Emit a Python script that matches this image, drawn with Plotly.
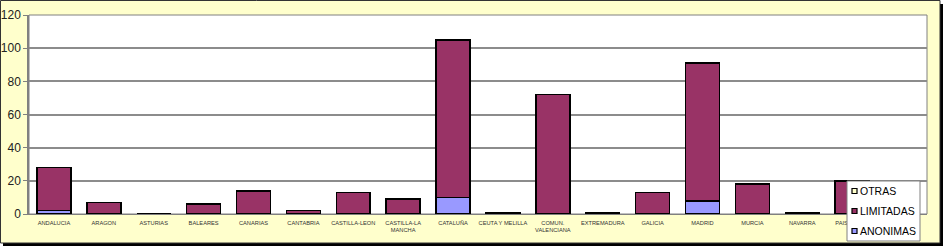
import plotly.graph_objects as go

categories = ["ANDALUCIA", "ARAGON", "ASTURIAS", "BALEARES", "CANARIAS", "CANTABRIA",
              "CASTILLA-LEON", "CASTILLA-LA<br>MANCHA", "CATALUÑA", "CEUTA Y MELILLA",
              "COMUN.<br>VALENCIANA", "EXTREMADURA", "GALICIA", "MADRID", "MURCIA",
              "NAVARRA", "PAIS VASCO", "LA RIOJA"]
anonimas = [2, 0, 0, 0, 0, 0, 0, 0, 10, 0, 0, 0, 0, 8, 0, 0, 0, 0]
limitadas = [26, 7, 0, 6, 14, 2, 13, 9, 95, 1, 72, 1, 13, 83, 18, 1, 20, 4]
otras = [0] * 18

series_names = ["OTRAS", "LIMITADAS", "ANONIMAS"]
series_colors = {"OTRAS": "#FFFFCC", "LIMITADAS": "#993366", "ANONIMAS": "#9999FF"}

y_ticks = [0, 20, 40, 60, 80, 100, 120]

line = dict(color="#000000", width=1.6)
fig = go.Figure()
fig.add_trace(go.Bar(x=categories, y=anonimas, name="ANONIMAS",
                     marker=dict(color=series_colors["ANONIMAS"], line=line)))
fig.add_trace(go.Bar(x=categories, y=limitadas, name="LIMITADAS",
                     marker=dict(color=series_colors["LIMITADAS"], line=line)))
fig.add_trace(go.Bar(x=categories, y=otras, name="OTRAS",
                     marker=dict(color=series_colors["OTRAS"], line=line)))

W, H = 944, 248
L, R, T, B = 29, 17, 15, 34
pw, ph = W - L - R, H - T - B


def px_x(v):
    return (v - L) / pw


def px_y(v):
    return (H - B - v) / ph


shapes = [
    # shadow
    dict(type="rect", xref="paper", yref="paper", layer="below",
         x0=px_x(3), x1=px_x(943), y0=px_y(246), y1=px_y(4),
         fillcolor="#000000", line=dict(width=0)),
    # frame
    dict(type="rect", xref="paper", yref="paper", layer="below",
         x0=px_x(0.5), x1=px_x(940), y0=px_y(243), y1=px_y(0.5),
         fillcolor="#FFFFCC", line=dict(color="#333333", width=1)),
    # plot area
    dict(type="rect", xref="paper", yref="paper", layer="below",
         x0=0, x1=1, y0=0, y1=1,
         fillcolor="#FFFFFF", line=dict(color="#808080", width=1)),
    # legend box (above)
    dict(type="rect", xref="paper", yref="paper", layer="above",
         x0=px_x(847), x1=px_x(920), y0=px_y(241), y1=px_y(181),
         fillcolor="#FFFFFF", line=dict(color="#808080", width=1)),
]

annotations = []
for i, name in enumerate(series_names):
    cy = 191 + 20 * i
    shapes.append(dict(type="rect", xref="paper", yref="paper", layer="above",
                       x0=px_x(852), x1=px_x(857), y0=px_y(cy + 2.5), y1=px_y(cy - 2.5),
                       fillcolor=series_colors[name], line=dict(color="#000000", width=1.2)))
    annotations.append(dict(xref="paper", yref="paper", x=px_x(857.5), y=px_y(cy),
                            xanchor="left", yanchor="middle", text=name, showarrow=False,
                            font=dict(size=10.5, color="#000000"), xshift=0))

fig.update_layout(
    width=W, height=H,
    margin=dict(l=L, r=R, t=T, b=B),
    barmode="stack",
    bargap=0.32,
    paper_bgcolor="#FFFFFF",
    plot_bgcolor="rgba(0,0,0,0)",
    font=dict(family="Liberation Sans, Arial, sans-serif", color="#222222"),
    shapes=shapes,
    annotations=annotations,
    showlegend=False,
    xaxis=dict(
        tickfont=dict(size=5.7, color="#333333"),
        showline=True, linecolor="#808080", linewidth=1,
        ticks="", tickangle=0, automargin=False, ticklabelstandoff=3,
    ),
    yaxis=dict(
        range=[0, 120], tickvals=y_ticks,
        tickfont=dict(size=12, color="#222222"),
        showgrid=True, gridcolor="#8C8C8C", gridwidth=1.5,
        showline=True, linecolor="#808080", linewidth=1.5,
        ticks="outside", ticklen=4, tickcolor="#808080",
        zeroline=False, automargin=False,
    ),
)

fig.write_html("out.html")
